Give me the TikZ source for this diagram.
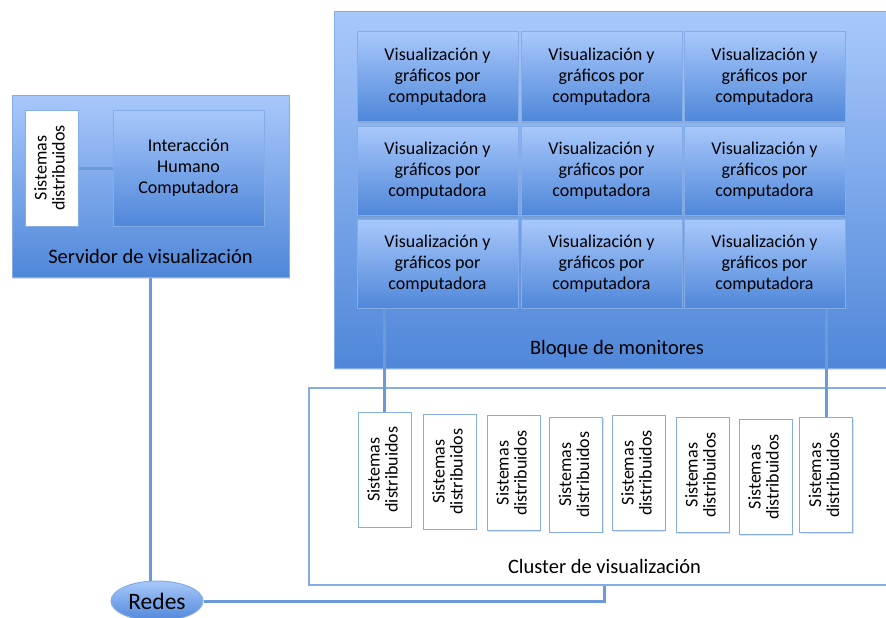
\documentclass[tikz,border=0pt]{standalone}
\usepackage{fontspec}
\setmainfont{Carlito}
\usetikzlibrary{shadows,shapes.geometric}
\definecolor{bluetop}{HTML}{A8C8FB}
\definecolor{bluebot}{HTML}{4F87D9}
\definecolor{blueedge}{HTML}{86ACE8}
\definecolor{wire}{HTML}{6A9AD8}
\tikzset{
  x=1pt, y=-1pt,
  panel/.style={draw=blueedge, line width=1pt, top color=bluetop, bottom color=bluebot,
                inner sep=0pt, drop shadow={opacity=0.25, shadow xshift=1pt, shadow yshift=-1.5pt}},
  tile/.style={panel, minimum width=161pt, minimum height=89pt, align=center,
               font=\fontsize{18}{21}\selectfont},
  sdbox/.style={draw=blueedge, line width=1pt, fill=white, inner sep=0pt,
                minimum width=53pt, minimum height=115pt,
                drop shadow={opacity=0.2, shadow xshift=1pt, shadow yshift=-1.2pt},
                font=\fontsize{18}{21}\selectfont},
  caption/.style={font=\fontsize{20.5}{23}\selectfont, inner sep=0pt},
  wireline/.style={draw=wire, line width=3pt},
}
\newcommand{\sdtext}{\rotatebox{90}{\begin{tabular}{@{}c@{}}Sistemas\\[-3pt]distribuidos\end{tabular}}}
\begin{document}
\begin{tikzpicture}
\useasboundingbox (0,0) rectangle (886,618);
\clip (0,0) rectangle (886,618);

% visualization server
\node[panel, minimum width=277pt, minimum height=182pt] (serv) at (150.5,186) {};
\node[sdbox, minimum height=116pt] (sd0) at (51.5,168) {\sdtext};
\node[tile, minimum width=151pt, minimum height=116pt] (hci) at (188.5,168)
  {Interacción\\Humano\\Computadora};
\node[caption] (servlbl) at (150.5,256) {Servidor de visualización};
\draw[wireline] (sd0.east) -- (hci.west);

% monitor wall
\node[panel, minimum width=566pt, minimum height=356pt] (wall) at (617,190) {};
\foreach \r/\y in {1/76.5, 2/170.5, 3/264}{
  \foreach \c/\x in {1/437.5, 2/601.5, 3/764.5}{
    \node[tile] (t\r\c) at (\x,\y) {Visualización y\\gráficos por\\computadora};
  }
}
\node[caption] (walllbl) at (617,349) {Bloque de monitores};

% render cluster
\node[draw=blueedge, line width=1.2pt, fill=white, inner sep=0pt,
      minimum width=591pt, minimum height=197pt] (clu) at (604.5,486.5) {};
\foreach \i/\x/\y in {1/384.5/469.5, 2/449.5/471.5, 3/513.5/473, 4/576/474.5,
                      5/638.5/473, 6/702.5/475, 7/765.5/477, 8/826/475}{
  \node[sdbox] (d\i) at (\x,\y) {\sdtext};
}
\node[caption] (clulbl) at (604.5,566) {Cluster de visualización};

% network
\node[ellipse, draw=blueedge, line width=1pt, top color=bluetop, bottom color=bluebot,
      minimum width=92pt, minimum height=40pt, inner sep=0pt,
      font=\fontsize{23.5}{26}\selectfont] (redes) at (157,601) {Redes};

% links
\draw[wireline] (serv.south) -- (serv.south |- redes.north);
\draw[wireline] (redes.east) -- (clu.south |- redes.east) -- (clu.south);
\draw[wireline] (d1.north |- t31.south) -- (d1.north);
\draw[wireline] (d8.north |- t33.south) -- (d8.north);
\end{tikzpicture}
\end{document}
